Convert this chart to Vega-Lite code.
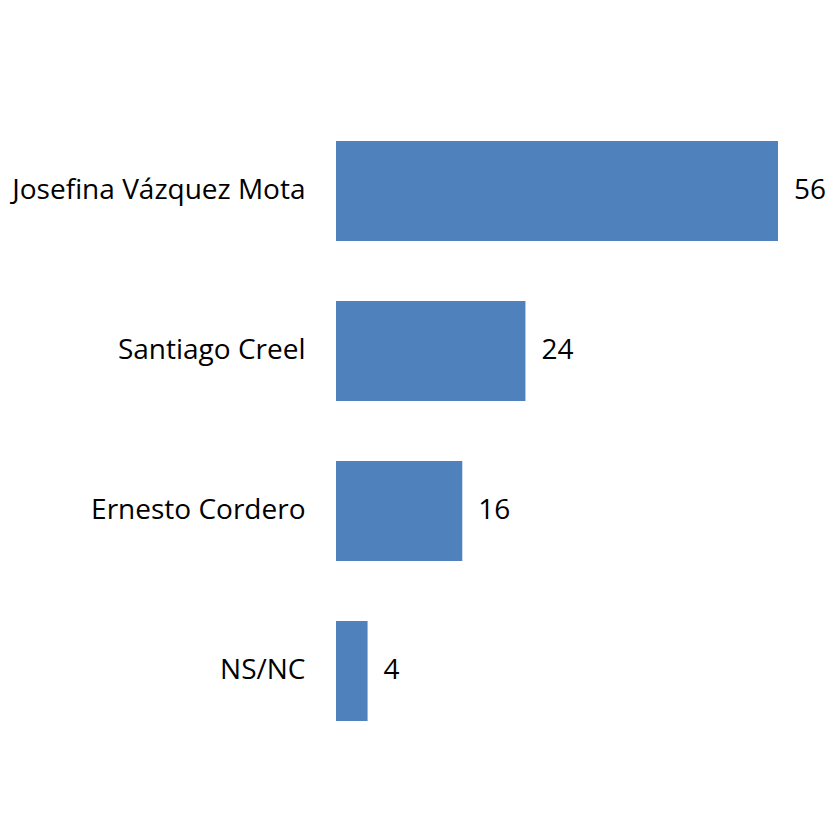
{
  "$schema": "https://vega.github.io/schema/vega-lite/v6.json",
  "autosize": "none",
  "width": 442,
  "height": 640,
  "padding": {"left": 336, "top": 111, "right": 51, "bottom": 69},
  "background": "white",
  "config": {"view": {"stroke": null}},
  "data": {"values": [
    {"name": "Josefina Vázquez Mota", "value": 56},
    {"name": "Santiago Creel", "value": 24},
    {"name": "Ernesto Cordero", "value": 16},
    {"name": "NS/NC", "value": 4}
  ]},
  "encoding": {
    "y": {"field": "name", "type": "nominal", "sort": null,
      "scale": {"paddingInner": 0.375, "paddingOuter": 0.1875},
      "axis": {"title": null, "domain": false, "ticks": false, "labelPadding": 31,
        "labelFont": "Open Sans", "labelFontSize": 28, "labelColor": "#000000", "labelLimit": 400}},
    "x": {"field": "value", "type": "quantitative", "scale": {"domain": [0, 56], "nice": false},
      "axis": null}
  },
  "layer": [
    {"mark": {"type": "bar", "color": "#4F81BD"}},
    {"mark": {"type": "text", "align": "left", "baseline": "middle", "dx": 16, "font": "Open Sans", "fontSize": 28, "color": "#000000"},
      "encoding": {"text": {"field": "value", "type": "quantitative"}}}
  ]
}
